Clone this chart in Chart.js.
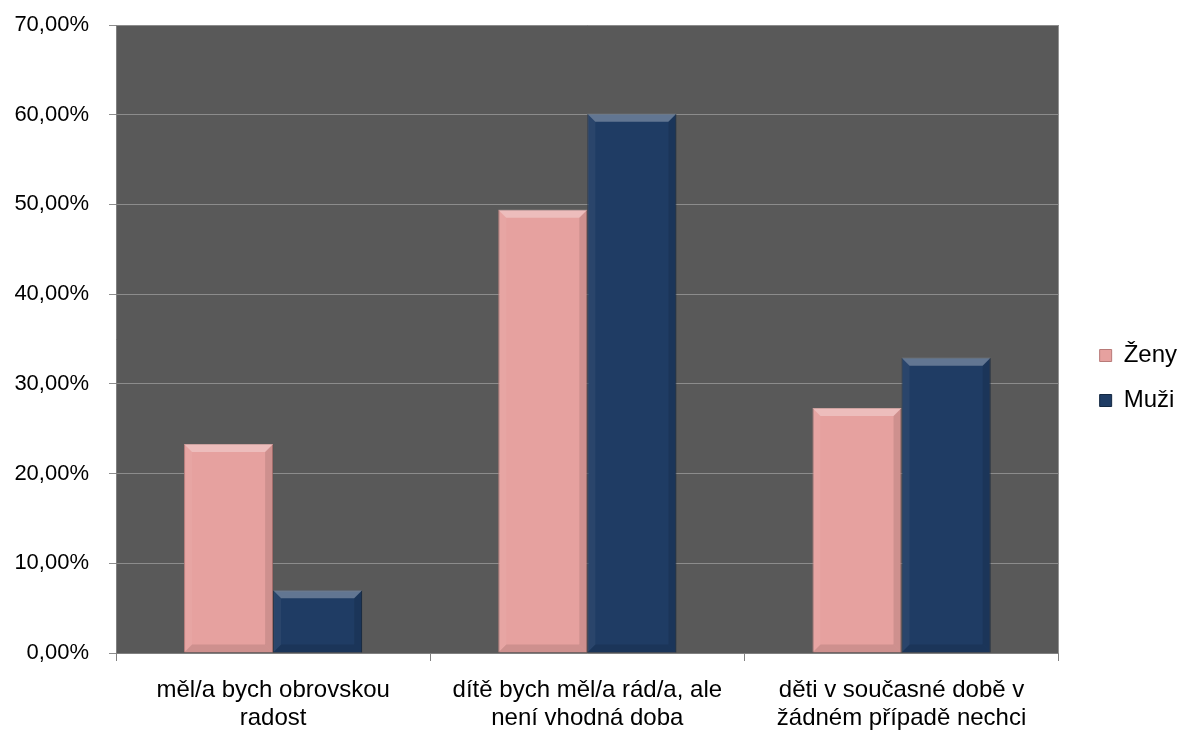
<!DOCTYPE html>
<html>
<head>
<meta charset="utf-8">
<script src="https://cdn.jsdelivr.net/npm/chart.js@4/dist/chart.umd.min.js"></script>
<style>
  html, body { margin: 0; padding: 0; background: #fff; }
  #wrap { width: 1181px; height: 731px; }
</style>
</head>
<body>
<div id="wrap"><canvas id="myChart"></canvas></div>
<script>
// popisky kategorii (dva radky)
const categories = [
    ['měl/a bych obrovskou', 'radost'],
    ['dítě bych měl/a rád/a, ale', 'není vhodná doba'],
    ['děti v současné době v', 'žádném případě nechci']
];
const zenyData = [23.3, 49.4, 27.3];
const muziData = [7.0, 60.1, 32.9];

const FONT = "'Liberation Sans', Arial, sans-serif";

// sede pozadi grafu
const plotBg = {
    id: 'plotBg',
    beforeDraw(chart) {
        const { ctx, chartArea: a } = chart;
        ctx.save();
        ctx.fillStyle = '#595959';
        ctx.fillRect(a.left, a.top, a.right - a.left, a.bottom - a.top);
        ctx.restore();
    }
};

// posun legendy trochu doprava
const legendShift = {
    id: 'legendShift',
    afterLayout(chart) {
        if (chart.legend) {
            chart.legend.left += 20;
            chart.legend.right += 20;
        }
    }
};

// jednoduchy "bevel" efekt na sloupcich
const bevel = {
    id: 'bevel',
    afterDatasetsDraw(chart) {
        const ctx = chart.ctx;
        chart.data.datasets.forEach((ds, i) => {
            chart.getDatasetMeta(i).data.forEach(bar => {
                const l = bar.x - bar.width / 2, r = bar.x + bar.width / 2;
                const t = bar.y, b = bar.base, d = 8;
                ctx.save();
                ctx.fillStyle = 'rgba(255,255,255,0.30)';
                ctx.beginPath();
                ctx.moveTo(l, t); ctx.lineTo(r, t); ctx.lineTo(r - d, t + d); ctx.lineTo(l + d, t + d);
                ctx.closePath(); ctx.fill();
                ctx.fillStyle = 'rgba(0,0,0,0.10)';
                ctx.beginPath();
                ctx.moveTo(r, t); ctx.lineTo(r, b); ctx.lineTo(r - d, b - d); ctx.lineTo(r - d, t + d);
                ctx.closePath(); ctx.fill();
                ctx.beginPath();
                ctx.moveTo(l, b); ctx.lineTo(r, b); ctx.lineTo(r - d, b - d); ctx.lineTo(l + d, b - d);
                ctx.closePath(); ctx.fill();
                ctx.fillStyle = 'rgba(255,255,255,0.05)';
                ctx.beginPath();
                ctx.moveTo(l, t); ctx.lineTo(l + d, t + d); ctx.lineTo(l + d, b - d); ctx.lineTo(l, b);
                ctx.closePath(); ctx.fill();
                ctx.restore();
            });
        });
    }
};

const ctx = document.getElementById('myChart').getContext('2d');
const myChart = new Chart(ctx, {
    type: 'bar',
    data: {
        labels: categories,
        datasets: [{
            label: 'Ženy',
            data: zenyData,
            backgroundColor: '#E6A19F',
            borderColor: '#B87A78',
            borderWidth: 1
        }, {
            label: 'Muži',
            data: muziData,
            backgroundColor: '#1F3C64',
            borderColor: '#142842',
            borderWidth: 1
        }]
    },
    options: {
        responsive: true,
        maintainAspectRatio: false,
        animation: false,
        datasets: {
            bar: { categoryPercentage: 0.567, barPercentage: 1.0 }
        },
        layout: { padding: { top: 25, left: 0, right: 14, bottom: 0 } },
        plugins: {
            tooltip: { enabled: false },
            legend: {
                position: 'right',
                labels: {
                    color: '#000',
                    font: { family: FONT, size: 24 },
                    boxWidth: 12,
                    boxHeight: 12,
                    padding: 21
                }
            }
        },
        scales: {
            x: {
                afterFit(scale) { scale.height = 78; },
                grid: {
                    offset: true,
                    drawOnChartArea: false,
                    drawTicks: true,
                    tickLength: 8,
                    color: '#808080'
                },
                border: { color: '#808080' },
                ticks: {
                    color: '#000',
                    font: { family: FONT, size: 24, lineHeight: 1.15 },
                    padding: 16,
                    maxRotation: 0
                }
            },
            y: {
                min: 0,
                max: 70,
                afterFit(scale) {
                    scale.width = 116;
                    scale.paddingTop = 0;
                    scale.paddingBottom = 0;
                },
                grid: {
                    color: '#8C8C8C',
                    tickLength: 7,
                    drawTicks: true
                },
                border: { color: '#808080' },
                ticks: {
                    stepSize: 10,
                    color: '#000',
                    font: { family: FONT, size: 22 },
                    padding: 20,
                    callback: v => v.toFixed(2).replace('.', ',') + '%'
                }
            }
        }
    },
    plugins: [plotBg, legendShift, bevel]
});
</script>
</body>
</html>
